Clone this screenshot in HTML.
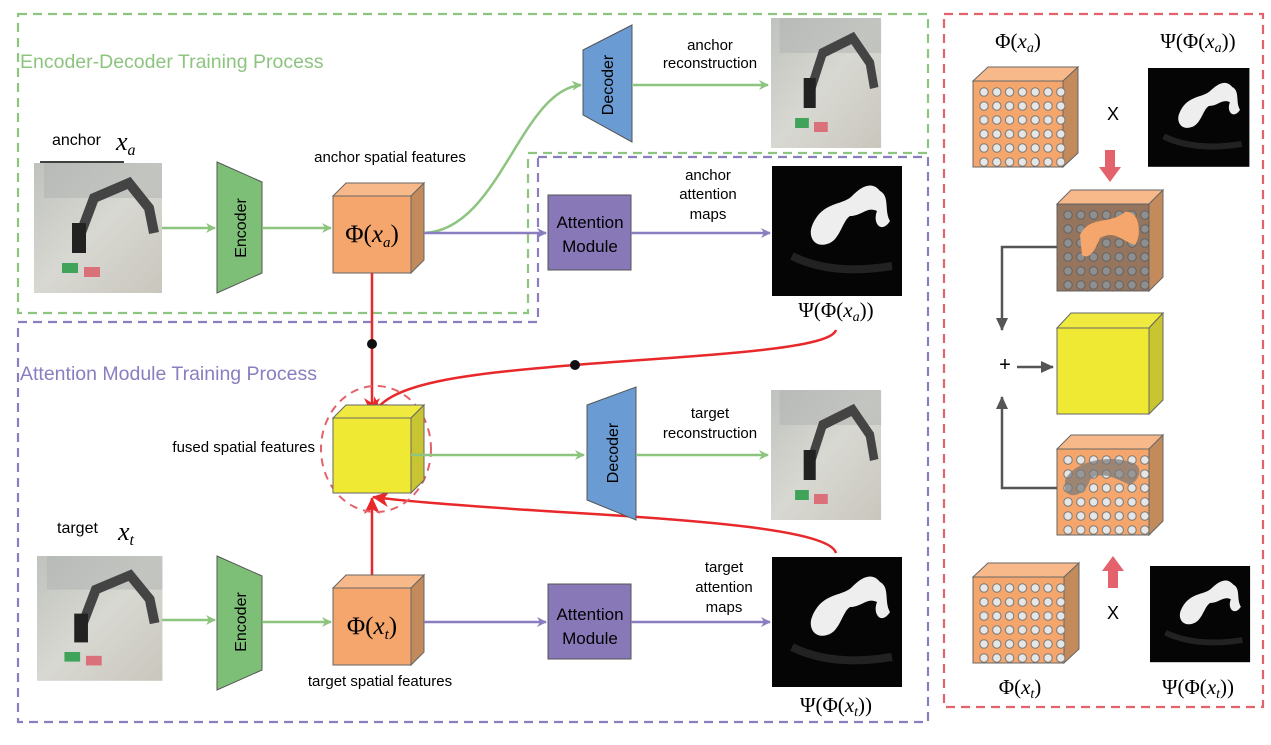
<!DOCTYPE html>
<html><head><meta charset="utf-8"><style>body{margin:0;background:#fff}svg{display:block}text{font-family:"Liberation Sans",sans-serif}.m{font-family:"Liberation Serif",serif}</style></head>
<body>
<svg width="1271" height="745" viewBox="0 0 1271 745" xmlns="http://www.w3.org/2000/svg">
<defs>
<marker id="ag" markerWidth="10" markerHeight="10" refX="9" refY="5" orient="auto" markerUnits="userSpaceOnUse"><path d="M0,0 L10,5 L0,10 L3,5z" fill="#8dc47f"/></marker>
<marker id="ap" markerWidth="10" markerHeight="10" refX="9" refY="5" orient="auto" markerUnits="userSpaceOnUse"><path d="M0,0 L10,5 L0,10 L3,5z" fill="#8a7dc0"/></marker>
<marker id="ar" markerWidth="18" markerHeight="16" refX="16" refY="8" orient="auto" markerUnits="userSpaceOnUse"><path d="M0,0 L17,8 L0,16 L5,8z" fill="#e8282a"/></marker>
<marker id="ak" markerWidth="14" markerHeight="14" refX="12" refY="7" orient="auto" markerUnits="userSpaceOnUse"><path d="M0,1 L13,7 L0,13z" fill="#555"/></marker>
<linearGradient id="ph" x1="0" y1="0" x2="1" y2="1"><stop offset="0" stop-color="#bfc2bd"/><stop offset=".5" stop-color="#d8d8d2"/><stop offset="1" stop-color="#c9c6bd"/></linearGradient>
<pattern id="dots" width="12.8" height="14" patternUnits="userSpaceOnUse" x="979" y="86"><circle cx="5" cy="6" r="4.2" fill="#e6e6e6" stroke="#777" stroke-width="1"/></pattern>
<pattern id="dots2" width="12.8" height="14" patternUnits="userSpaceOnUse" x="1063" y="209"><circle cx="5" cy="6" r="4.2" fill="#e6e6e6" stroke="#777" stroke-width="1"/></pattern>
<pattern id="dots3" width="12.8" height="14" patternUnits="userSpaceOnUse" x="1063" y="454"><circle cx="5" cy="6" r="4.2" fill="#e6e6e6" stroke="#777" stroke-width="1"/></pattern>
<pattern id="dots4" width="12.8" height="14" patternUnits="userSpaceOnUse" x="979" y="582"><circle cx="5" cy="6" r="4.2" fill="#e6e6e6" stroke="#777" stroke-width="1"/></pattern>
<g id="robot"><rect width="128" height="130" fill="url(#ph)"/><path d="M10,0 h118 v35 h-118z" fill="#aeb2b0" opacity=".5"/><path d="M45,75 L60,35 L95,20 L115,45 L120,70" stroke="#444" stroke-width="10" fill="none"/><rect x="38" y="60" width="14" height="30" fill="#222"/><rect x="28" y="100" width="16" height="10" fill="#3fa35a"/><rect x="50" y="104" width="16" height="10" fill="#d9707a"/></g>
<g id="att"><rect width="130" height="130" fill="#050505"/><path d="M40,60 C50,35 70,40 80,30 C90,20 100,15 108,25 C118,30 112,45 118,55 C110,68 100,58 105,45 C95,40 90,50 78,50 C70,55 68,75 55,78 C42,82 36,70 40,60z" fill="#eee"/><path d="M20,90 Q60,110 120,100" stroke="#222" stroke-width="8" fill="none"/></g>
</defs>

<path d="M18,14 H928 V153 H528 V313 H18 Z" fill="none" stroke="#8dc47f" stroke-width="2.2" stroke-dasharray="9,6"/>
<path d="M538,157 H928 V722 H18 V322 H538 Z" fill="none" stroke="#8a7dc0" stroke-width="2.2" stroke-dasharray="9,6"/>
<rect x="944" y="14" width="319" height="693" fill="none" stroke="#e4626b" stroke-width="2.2" stroke-dasharray="9,6"/>

<text x="20" y="68" font-size="19.5" fill="#8dc47f">Encoder-Decoder Training Process</text>
<text x="20" y="380" font-size="19.5" fill="#8a7dc0">Attention Module Training Process</text>

<text x="52" y="145" font-size="16">anchor</text><text x="116" y="150" font-size="26" class="m" font-style="italic">x<tspan font-size="16" dy="5">a</tspan></text>
<line x1="40" y1="162" x2="124" y2="162" stroke="#000" stroke-width="1.5"/>
<use href="#robot" x="34" y="163"/>
<line x1="162" y1="228" x2="215" y2="228" stroke="#8dc47f" stroke-width="2.5" marker-end="url(#ag)"/>
<path d="M217,162 L262,182 L262,273 L217,293z" fill="#7ebf78" stroke="#555"/>
<text font-size="16" transform="translate(246,228) rotate(-90)" text-anchor="middle">Encoder</text>
<line x1="262" y1="228" x2="331" y2="228" stroke="#8dc47f" stroke-width="2.5" marker-end="url(#ag)"/>
<text x="390" y="162" font-size="15" text-anchor="middle">anchor spatial features</text>
<path d="M333,196 L346,183 L424,183 L411,196z" fill="#f8b98a" stroke="#666"/><path d="M411,196 L424,183 L424,260 L411,273z" fill="#c38a5c" stroke="#666"/>
<rect x="333" y="196" width="78" height="77" fill="#f5a66c" stroke="#666"/>
<text x="372" y="242" font-size="25" class="m" text-anchor="middle">Φ(<tspan font-style="italic">x</tspan><tspan font-size="15" dy="5" font-style="italic">a</tspan><tspan dy="-5">)</tspan></text>
<path d="M424,233 C500,230 520,90 581,85" fill="none" stroke="#8dc47f" stroke-width="2.5" marker-end="url(#ag)"/>
<line x1="424" y1="233" x2="546" y2="233" stroke="#8a7dc0" stroke-width="2.5" marker-end="url(#ap)"/>
<rect x="548" y="195" width="83" height="75" fill="#8878b8" stroke="#555"/>
<text x="590" y="228" font-size="17" text-anchor="middle">Attention</text><text x="590" y="252" font-size="17" text-anchor="middle">Module</text>
<line x1="631" y1="233" x2="770" y2="233" stroke="#8a7dc0" stroke-width="2.5" marker-end="url(#ap)"/>
<text x="708" y="180" font-size="15" text-anchor="middle">anchor</text><text x="708" y="199" font-size="15" text-anchor="middle">attention</text><text x="708" y="219" font-size="15" text-anchor="middle">maps</text>
<use href="#att" x="772" y="166"/>
<text x="836" y="317" font-size="21" class="m" text-anchor="middle">Ψ(Φ(<tspan font-style="italic">x</tspan><tspan font-size="14" dy="4" font-style="italic">a</tspan><tspan dy="-4">))</tspan></text>

<path d="M583,50 L632,25 L632,142 L583,115z" fill="#6a9bd2" stroke="#555"/>
<text font-size="16" transform="translate(613,85) rotate(-90)" text-anchor="middle">Decoder</text>
<line x1="632" y1="85" x2="768" y2="85" stroke="#8dc47f" stroke-width="2.5" marker-end="url(#ag)"/>
<text x="710" y="50" font-size="15" text-anchor="middle">anchor</text><text x="710" y="68" font-size="15" text-anchor="middle">reconstruction</text>
<use href="#robot" transform="translate(771,18) scale(.86,1)"/>

<line x1="372" y1="273" x2="372" y2="414" stroke="#e8282a" stroke-width="2.5" marker-end="url(#ar)"/>
<circle cx="372" cy="344" r="5" fill="#111"/>
<path d="M836,330 C830,350 700,355 575,365 C450,375 390,385 373,414" fill="none" stroke="#e8282a" stroke-width="2.5" marker-end="url(#ar)"/>
<circle cx="575" cy="365" r="5" fill="#111"/>
<path d="M836,553 C830,530 700,520 560,512 C450,505 395,500 373,497" fill="none" stroke="#e8282a" stroke-width="2.5" marker-end="url(#ar)"/>
<line x1="372" y1="588" x2="372" y2="498" stroke="#e8282a" stroke-width="2.5" marker-end="url(#ar)"/>

<ellipse cx="376" cy="449" rx="55" ry="63" fill="none" stroke="#e4626b" stroke-width="2" stroke-dasharray="8,6"/>
<path d="M333,418 L346,405 L424,405 L411,418z" fill="#f0ea40" stroke="#666"/><path d="M411,418 L424,405 L424,480 L411,493z" fill="#c9c431" stroke="#666"/>
<rect x="333" y="418" width="78" height="75" fill="#f0e934" stroke="#666"/>
<text x="315" y="452" font-size="15" text-anchor="end">fused spatial features</text>
<line x1="411" y1="455" x2="584" y2="455" stroke="#8dc47f" stroke-width="2.5" marker-end="url(#ag)"/>
<path d="M587,405 L636,387 L636,520 L587,500z" fill="#6a9bd2" stroke="#555"/>
<text font-size="16" transform="translate(618,453) rotate(-90)" text-anchor="middle">Decoder</text>
<line x1="636" y1="455" x2="768" y2="455" stroke="#8dc47f" stroke-width="2.5" marker-end="url(#ag)"/>
<text x="710" y="418" font-size="15" text-anchor="middle">target</text><text x="710" y="438" font-size="15" text-anchor="middle">reconstruction</text>
<use href="#robot" transform="translate(771,390) scale(.86,1)"/>

<text x="57" y="533" font-size="16">target</text><text x="118" y="540" font-size="26" class="m" font-style="italic">x<tspan font-size="16" dy="5">t</tspan></text>
<use href="#robot" transform="translate(37,556) scale(.98,.96)"/>
<line x1="162" y1="620" x2="215" y2="620" stroke="#8dc47f" stroke-width="2.5" marker-end="url(#ag)"/>
<path d="M217,556 L262,576 L262,670 L217,690z" fill="#7ebf78" stroke="#555"/>
<text font-size="16" transform="translate(246,622) rotate(-90)" text-anchor="middle">Encoder</text>
<line x1="262" y1="622" x2="331" y2="622" stroke="#8dc47f" stroke-width="2.5" marker-end="url(#ag)"/>
<path d="M333,588 L346,575 L424,575 L411,588z" fill="#f8b98a" stroke="#666"/><path d="M411,588 L424,575 L424,652 L411,665z" fill="#c38a5c" stroke="#666"/>
<rect x="333" y="588" width="78" height="77" fill="#f5a66c" stroke="#666"/>
<text x="372" y="634" font-size="25" class="m" text-anchor="middle">Φ(<tspan font-style="italic">x</tspan><tspan font-size="15" dy="5" font-style="italic">t</tspan><tspan dy="-5">)</tspan></text>
<text x="380" y="686" font-size="15" text-anchor="middle">target spatial features</text>
<line x1="424" y1="622" x2="546" y2="622" stroke="#8a7dc0" stroke-width="2.5" marker-end="url(#ap)"/>
<rect x="548" y="584" width="83" height="75" fill="#8878b8" stroke="#555"/>
<text x="590" y="620" font-size="17" text-anchor="middle">Attention</text><text x="590" y="644" font-size="17" text-anchor="middle">Module</text>
<line x1="631" y1="622" x2="770" y2="622" stroke="#8a7dc0" stroke-width="2.5" marker-end="url(#ap)"/>
<text x="724" y="572" font-size="15" text-anchor="middle">target</text><text x="724" y="592" font-size="15" text-anchor="middle">attention</text><text x="724" y="612" font-size="15" text-anchor="middle">maps</text>
<use href="#att" x="772" y="557"/>
<text x="836" y="712" font-size="21" class="m" text-anchor="middle">Ψ(Φ(<tspan font-style="italic">x</tspan><tspan font-size="14" dy="4" font-style="italic">t</tspan><tspan dy="-4">))</tspan></text>

<text x="1018" y="48" font-size="21" class="m" text-anchor="middle">Φ(<tspan font-style="italic">x</tspan><tspan font-size="14" dy="4" font-style="italic">a</tspan><tspan dy="-4">)</tspan></text>
<text x="1198" y="48" font-size="21" class="m" text-anchor="middle">Ψ(Φ(<tspan font-style="italic">x</tspan><tspan font-size="14" dy="4" font-style="italic">a</tspan><tspan dy="-4">))</tspan></text>
<g stroke="#666">
<path d="M973,81 L988,67 L1078,67 L1063,81z" fill="#f8b98a"/><path d="M1063,81 L1078,67 L1078,153 L1063,167z" fill="#c38a5c"/>
<rect x="973" y="81" width="90" height="86" fill="#f5a66c"/><rect x="978" y="85" width="88" height="82" fill="url(#dots)" stroke="none"/>
</g>
<use href="#att" transform="translate(1148,68) scale(.78,.76)"/>
<text x="1113" y="120" font-size="18" text-anchor="middle">X</text>
<path d="M1105,150 H1115 V167 H1121 L1110,182 L1099,167 H1105z" fill="#e4626b"/>

<g stroke="#666">
<path d="M1057,204 L1071,190 L1163,190 L1149,204z" fill="#f8b98a"/><path d="M1149,204 L1163,190 L1163,277 L1149,291z" fill="#c38a5c"/>
<rect x="1057" y="204" width="92" height="87" fill="#f5a66c"/>
<rect x="1062" y="208" width="88" height="82" fill="url(#dots2)" stroke="none"/>
<rect x="1057" y="204" width="92" height="87" fill="#555" opacity=".6" stroke="none"/>
<path d="M1080,235 C1090,215 1110,225 1125,212 C1140,210 1142,235 1135,245 C1120,240 1115,230 1100,238 C1095,250 1090,260 1082,255z" fill="#f5a66c" stroke="none"/>
</g>
<g stroke="#666">
<path d="M1057,328 L1071,313 L1163,313 L1149,328z" fill="#f0ea40"/><path d="M1149,328 L1163,313 L1163,400 L1149,414z" fill="#c9c431"/>
<rect x="1057" y="328" width="92" height="86" fill="#f0e934"/>
</g>
<g stroke="#666">
<path d="M1057,449 L1071,435 L1163,435 L1149,449z" fill="#f8b98a"/><path d="M1149,449 L1163,435 L1163,521 L1149,535z" fill="#c38a5c"/>
<rect x="1057" y="449" width="92" height="86" fill="#f5a66c"/>
<rect x="1062" y="453" width="88" height="82" fill="url(#dots3)" stroke="none"/>
<path d="M1065,480 C1075,460 1110,455 1130,462 C1145,465 1140,480 1130,485 C1115,478 1100,470 1090,480 C1085,495 1070,500 1065,490z" fill="#777" opacity=".7" stroke="none"/>
</g>
<path d="M1057,247 H1002 V330" fill="none" stroke="#555" stroke-width="2.5" marker-end="url(#ak)"/>
<path d="M1057,488 H1002 V397" fill="none" stroke="#555" stroke-width="2.5" marker-end="url(#ak)"/>
<text x="1005" y="371" font-size="20" text-anchor="middle">+</text>
<line x1="1017" y1="367" x2="1053" y2="367" stroke="#555" stroke-width="2.5" marker-end="url(#ak)"/>
<path d="M1108,588 H1118 V571 H1124 L1113,556 L1102,571 H1108z" fill="#e4626b"/>

<g stroke="#666">
<path d="M973,577 L988,563 L1079,563 L1064,577z" fill="#f8b98a"/><path d="M1064,577 L1079,563 L1079,649 L1064,663z" fill="#c38a5c"/>
<rect x="973" y="577" width="91" height="86" fill="#f5a66c"/><rect x="978" y="581" width="88" height="82" fill="url(#dots4)" stroke="none"/>
</g>
<use href="#att" transform="translate(1150,566) scale(.77,.74)"/>
<text x="1113" y="619" font-size="18" text-anchor="middle">X</text>
<text x="1020" y="694" font-size="21" class="m" text-anchor="middle">Φ(<tspan font-style="italic">x</tspan><tspan font-size="14" dy="4" font-style="italic">t</tspan><tspan dy="-4">)</tspan></text>
<text x="1198" y="694" font-size="21" class="m" text-anchor="middle">Ψ(Φ(<tspan font-style="italic">x</tspan><tspan font-size="14" dy="4" font-style="italic">t</tspan><tspan dy="-4">))</tspan></text>
</svg>
</body></html>
